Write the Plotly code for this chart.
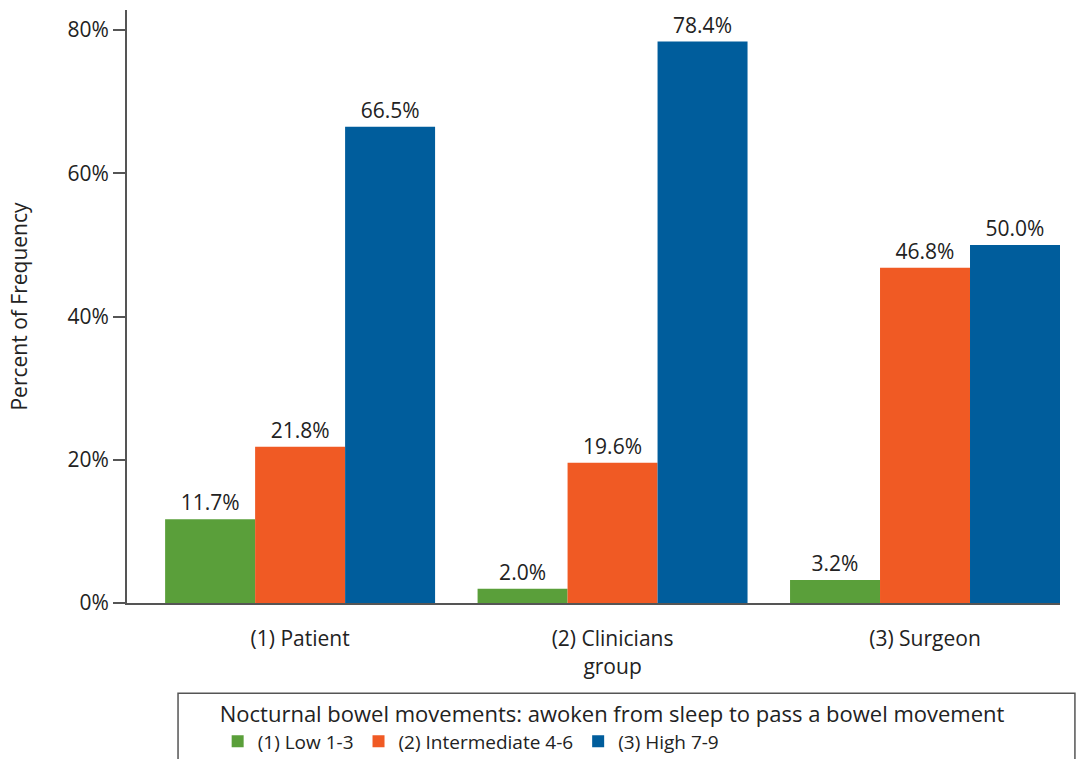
import plotly.graph_objects as go

categories = ["(1) Patient", "(2) Clinicians<br>group", "(3) Surgeon"]
series_names = ["(1) Low 1-3", "(2) Intermediate 4-6", "(3) High 7-9"]
low = [11.7, 2.0, 3.2]
intermediate = [21.8, 19.6, 46.8]
high = [66.5, 78.4, 50.0]
y_ticks = [0, 20, 40, 60, 80]
y_tick_labels = ["0%", "20%", "40%", "60%", "80%"]
legend_title = "Nocturnal bowel movements: awoken from sleep to pass a bowel movement"

colors = ["#5a9f3a", "#f05a24", "#005d9c"]
FONT = "Open Sans, Liberation Sans, sans-serif"
FS = 21

fig = go.Figure()
for name, vals, col in zip(series_names, [low, intermediate, high], colors):
    fig.add_trace(go.Bar(
        x=categories, y=vals, name=name,
        marker=dict(color=col, line=dict(width=0)),
        texttemplate="%{y:.1f}%", textposition="outside",
        textfont=dict(size=FS, color="#222222", family=FONT),
        cliponaxis=False,
    ))

fig.update_layout(
    width=1086, height=759,
    margin=dict(l=127, r=26, t=10, b=156, autoexpand=False),
    paper_bgcolor="white", plot_bgcolor="white",
    barmode="group", bargap=0.136, bargroupgap=0,
    font=dict(family=FONT, size=FS, color="#222222"),
    showlegend=True,
    legend=dict(
        orientation="h", x=0.52, xanchor="center", y=-0.153, yanchor="top",
        title=dict(text=legend_title, side="top center", font=dict(size=22)),
        font=dict(size=19), bgcolor="rgba(0,0,0,0)", borderwidth=0,
        itemsizing="constant",
    ),
    xaxis=dict(
        range=[-0.554, 2.432], showline=True, linecolor="#555555", linewidth=2,
        ticks="", showgrid=False, ticklabelstandoff=16,
        tickfont=dict(size=FS, color="#222222"),
    ),
    yaxis=dict(
        range=[0, 82.8], showline=True, linecolor="#555555", linewidth=2,
        ticks="outside", ticklen=12, tickwidth=2, tickcolor="#555555",
        tickvals=y_ticks, ticktext=y_tick_labels, showgrid=False, zeroline=False,
        tickfont=dict(size=FS, color="#222222"),
        title=dict(text="Percent of Frequency", font=dict(size=FS), standoff=34),
    ),
    shapes=[dict(
        type="rect", xref="paper", yref="paper",
        x0=0.0547, x1=1.016, y0=-0.28, y1=-0.152,
        line=dict(color="#555555", width=1.5), fillcolor="rgba(0,0,0,0)",
    )],
)

fig.write_html("out.html")
